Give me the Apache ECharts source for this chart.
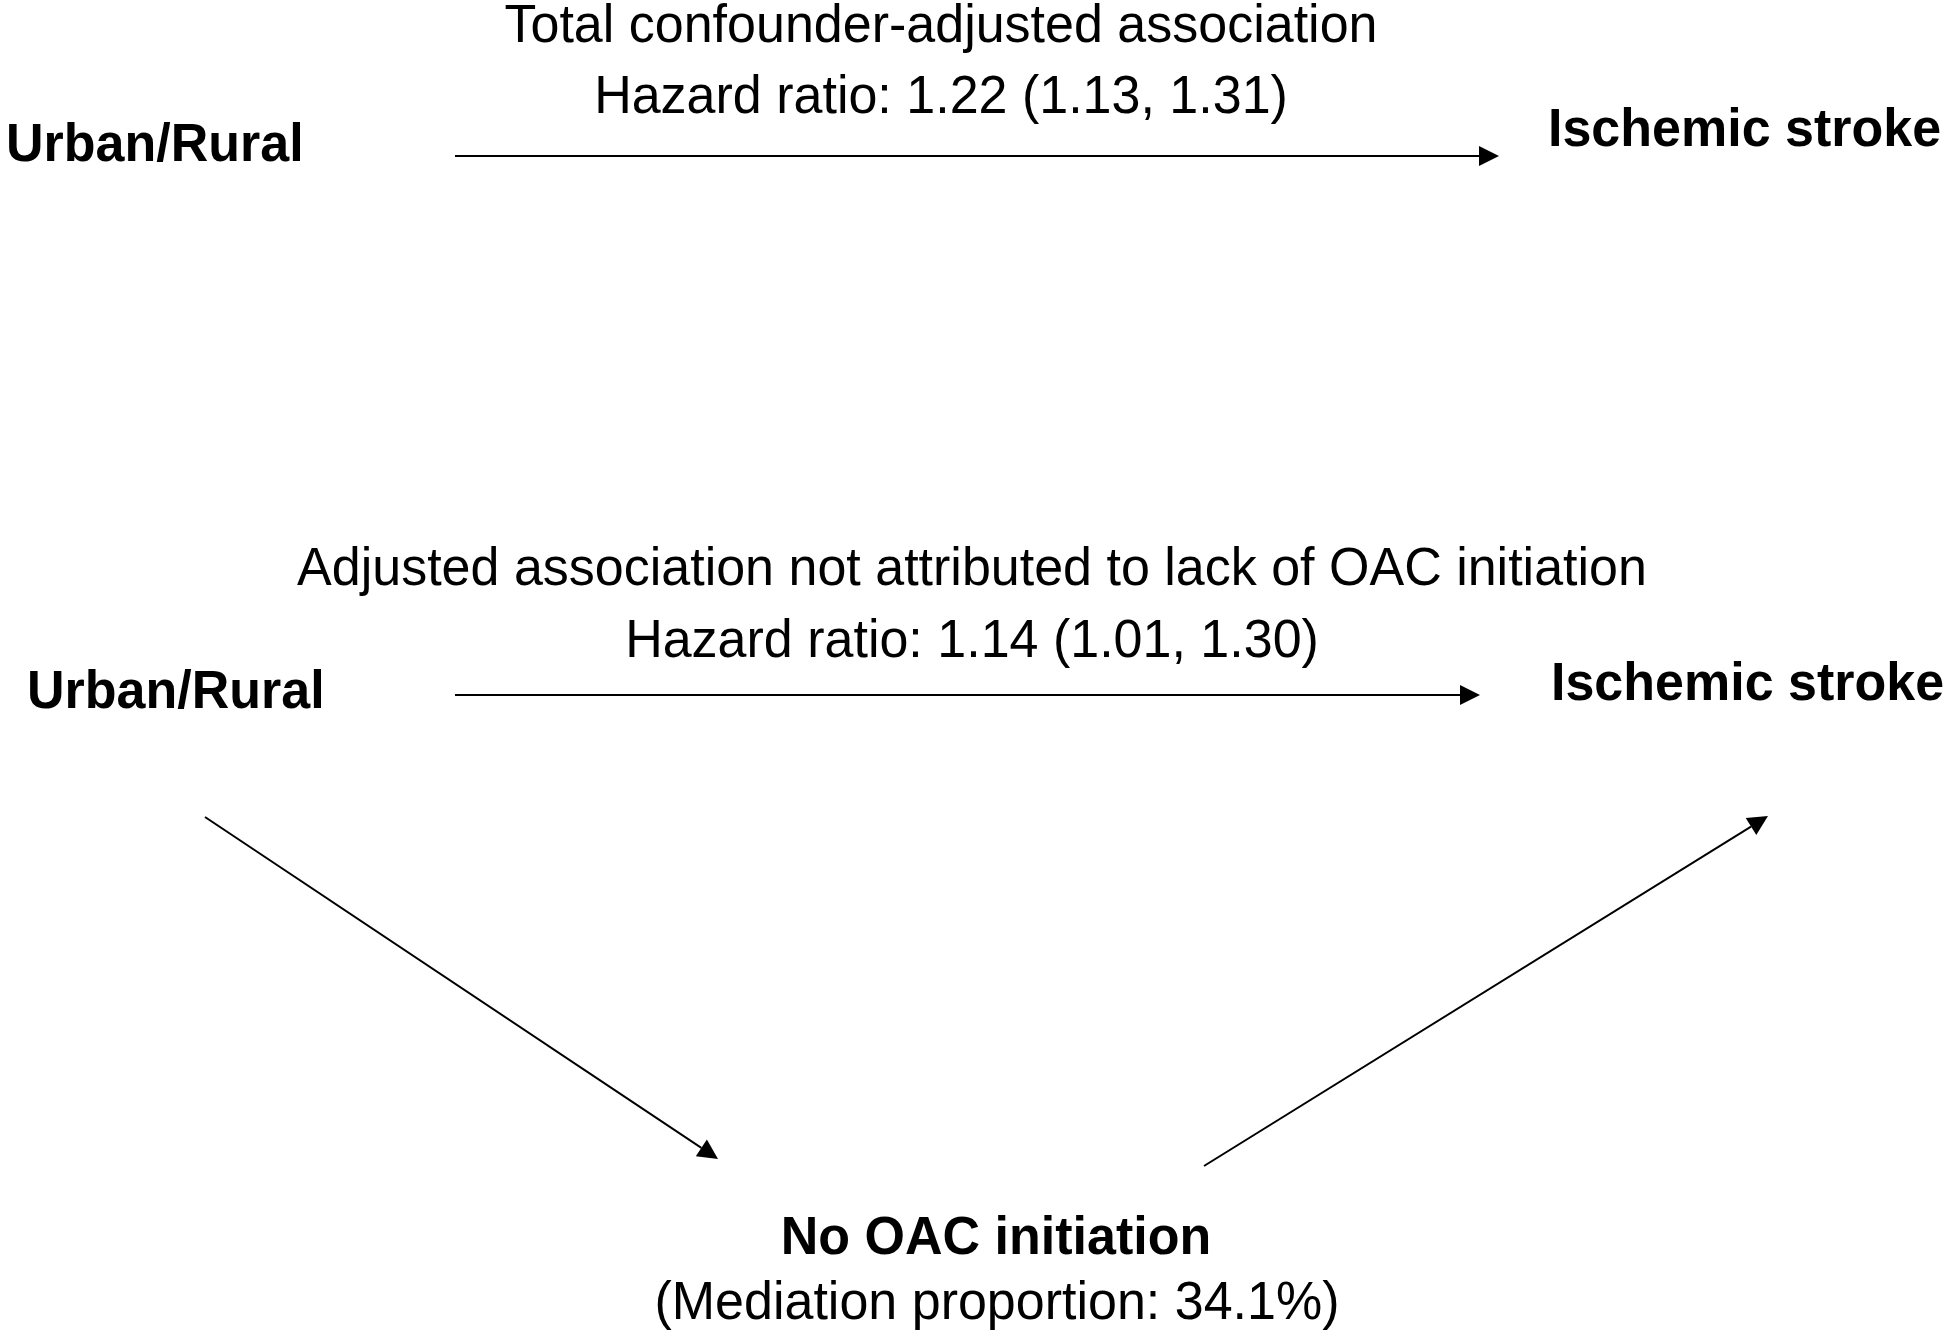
<!DOCTYPE html>
<html>
<head>
<meta charset="utf-8">
<script src="https://cdn.jsdelivr.net/npm/echarts@6/dist/echarts.min.js"></script>
<style>
  html, body { margin: 0; padding: 0; background: #ffffff; }
  #chart { width: 1950px; height: 1333px; }
</style>
</head>
<body>
<div id="chart"></div>
<script>
// ---------- data ----------
const nodeNames = ['Urban/Rural', 'Ischemic stroke', 'Urban/Rural', 'Ischemic stroke', 'No OAC initiation'];
const pathTitles = ['Total confounder-adjusted association', 'Adjusted association not attributed to lack of OAC initiation'];
const hazardRatios = [1.22, 1.14];
const ciLower = [1.13, 1.01];
const ciUpper = [1.31, 1.30];
const mediationProportion = [34.1];

// ---------- layout (diagram coordinates, in a 1950 x 1333 frame) ----------
const nodeX = [6, 1548, 27, 1551, 996];
const nodeY = [144, 129, 691, 683, 1237];
const nodeAlign = ['left', 'left', 'left', 'left', 'center'];
const pathTextX = [941, 972];
const pathTitleY = [25, 568];
const pathHrY = [96, 640];
const mediationX = [997];
const mediationY = [1302];
// arrows: start and end points
const arrowFrom = [[455, 156], [455, 695], [205, 817], [1204, 1166]];
const arrowTo = [[1499, 156], [1480, 695], [718, 1159], [1768, 816]];

// ---------- build ----------
const FONT = "'Liberation Sans', Arial, Helvetica, sans-serif";
const FS = 52;
const Y_SHIFT = 2;
const TEXT_SCALE_Y = 1.04;

const fmt = v => v.toFixed(2);
const hrLabels = hazardRatios.map((h, i) => 'Hazard ratio: ' + fmt(h) + ' (' + fmt(ciLower[i]) + ', ' + fmt(ciUpper[i]) + ')');

const textItems = [];
nodeNames.forEach((n, i) => textItems.push({ value: [nodeX[i], nodeY[i]], text: n, bold: true, align: nodeAlign[i] }));
pathTitles.forEach((t, i) => textItems.push({ value: [pathTextX[i], pathTitleY[i]], text: t, bold: false, align: 'center' }));
hrLabels.forEach((t, i) => textItems.push({ value: [pathTextX[i], pathHrY[i]], text: t, bold: false, align: 'center' }));
mediationProportion.forEach((m, i) => textItems.push({ value: [mediationX[i], mediationY[i]], text: '(Mediation proportion: ' + m.toFixed(1) + '%)', bold: false, align: 'center' }));

const arrowData = arrowFrom.map((f, i) => [f[0], f[1], arrowTo[i][0], arrowTo[i][1]]);

const chart = echarts.init(document.getElementById('chart'), null, { renderer: 'canvas' });
chart.setOption({
  backgroundColor: '#ffffff',
  animation: false,
  grid: { left: 0, right: 0, top: 0, bottom: 0 },
  xAxis: { type: 'value', min: 0, max: 1950, show: false },
  yAxis: { type: 'value', min: 0, max: 1333, inverse: true, show: false },
  series: [
    {
      type: 'custom',
      coordinateSystem: 'cartesian2d',
      data: arrowData,
      encode: { x: [0, 2], y: [1, 3] },
      renderItem: function (params, api) {
        const p1 = api.coord([api.value(0), api.value(1)]);
        const p2 = api.coord([api.value(2), api.value(3)]);
        const dx = p2[0] - p1[0], dy = p2[1] - p1[1];
        const len = Math.sqrt(dx * dx + dy * dy);
        const ux = dx / len, uy = dy / len;
        const headL = 20, headW = 10;
        const bx = p2[0] - ux * headL, by = p2[1] - uy * headL;
        const nx = -uy, ny = ux;
        return {
          type: 'group',
          children: [
            { type: 'line', shape: { x1: p1[0], y1: p1[1], x2: bx, y2: by }, style: { stroke: '#000', lineWidth: 2 } },
            { type: 'polygon', shape: { points: [[p2[0], p2[1]], [bx + nx * headW, by + ny * headW], [bx - nx * headW, by - ny * headW]] }, style: { fill: '#000' } }
          ]
        };
      }
    },
    {
      type: 'custom',
      coordinateSystem: 'cartesian2d',
      data: textItems,
      renderItem: function (params, api) {
        const item = textItems[params.dataIndex];
        const p = api.coord([api.value(0), api.value(1)]);
        return {
          type: 'text',
          x: p[0],
          y: p[1] + Y_SHIFT,
          scaleY: TEXT_SCALE_Y,
          style: {
            text: item.text,
            fontFamily: FONT,
            fontSize: FS,
            fontWeight: item.bold ? 'bold' : 'normal',
            fill: '#000',
            align: item.align,
            verticalAlign: 'middle'
          }
        };
      }
    }
  ]
});
</script>
</body>
</html>
